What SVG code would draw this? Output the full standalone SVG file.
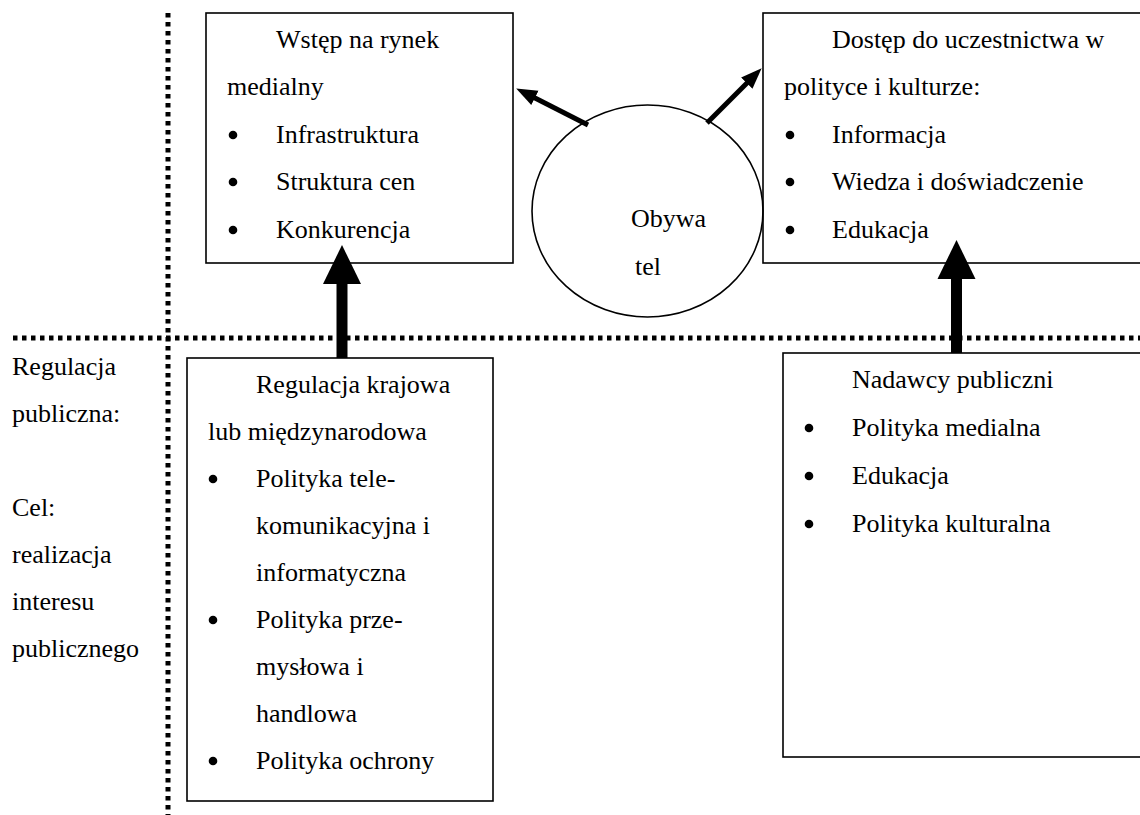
<svg xmlns="http://www.w3.org/2000/svg" width="1140" height="815" viewBox="0 0 1140 815">
<style>
  text { font-family: 'Liberation Serif', 'Times New Roman', serif; font-size: 26px; fill: #000; }
  .box { fill: none; stroke: #000; stroke-width: 1.6; }
  .dot { fill: #000; }
  .sep { stroke: #000; stroke-width: 5; stroke-dasharray: 4.5 4.5; fill: none; }
  .thin { stroke: #000; stroke-width: 5; fill: none; }
  .thick { stroke: #000; stroke-width: 11; fill: none; }
</style>
<defs>
  <marker id="headThin" markerUnits="userSpaceOnUse" markerWidth="22" markerHeight="18" viewBox="0 0 22 18" refX="1" refY="9" orient="auto">
    <path d="M0,1 L21,9 L0,17 z" fill="#000"/>
  </marker>
  <marker id="headThick" markerUnits="userSpaceOnUse" markerWidth="40" markerHeight="40" viewBox="0 0 40 40" refX="1" refY="20" orient="auto">
    <path d="M0,1 L39,20 L0,39 z" fill="#000"/>
  </marker>
</defs>
<rect width="1140" height="815" fill="#fff"/>

<g id="separators">
  <line class="sep" x1="168" y1="13" x2="168" y2="815"/>
  <line class="sep" x1="13" y1="338" x2="1140" y2="338"/>
</g>

<g id="side-label">
  <text x="12" y="375">Regulacja</text>
  <text x="12" y="422">publiczna:</text>
  <text x="12" y="516">Cel:</text>
  <text x="12" y="563">realizacja</text>
  <text x="12" y="610">interesu</text>
  <text x="12" y="657">publicznego</text>
</g>

<g id="node-rynek">
  <rect class="box" x="206" y="13" width="307" height="250"/>
  <text x="276" y="48">Wstęp na rynek</text>
  <text x="227" y="95">medialny</text>
  <circle class="dot" cx="233" cy="135" r="4.3"/>
  <text x="276" y="143">Infrastruktura</text>
  <circle class="dot" cx="233" cy="182" r="4.3"/>
  <text x="276" y="190">Struktura cen</text>
  <circle class="dot" cx="233" cy="230" r="4.3"/>
  <text x="276" y="238">Konkurencja</text>
</g>

<g id="node-dostep">
  <rect class="box" x="763" y="13" width="390" height="250"/>
  <text x="832" y="48">Dostęp do uczestnictwa w</text>
  <text x="784" y="95">polityce i kulturze:</text>
  <circle class="dot" cx="790" cy="135" r="4.3"/>
  <text x="832" y="143">Informacja</text>
  <circle class="dot" cx="790" cy="182" r="4.3"/>
  <text x="832" y="190">Wiedza i doświadczenie</text>
  <circle class="dot" cx="790" cy="230" r="4.3"/>
  <text x="832" y="238">Edukacja</text>
</g>

<g id="node-obywatel">
  <ellipse fill="none" stroke="#000" stroke-width="1.6" cx="647.5" cy="211" rx="115.5" ry="106"/>
  <text x="631" y="227">Obywa</text>
  <text x="635" y="275">tel</text>
</g>

<g id="node-regulacja">
  <rect class="box" x="187" y="358" width="306" height="443"/>
  <text x="256" y="393">Regulacja krajowa</text>
  <text x="208" y="440">lub międzynarodowa</text>
  <circle class="dot" cx="213" cy="479" r="4.3"/>
  <text x="256" y="487">Polityka tele-</text>
  <text x="256" y="534">komunikacyjna i</text>
  <text x="256" y="581">informatyczna</text>
  <circle class="dot" cx="213" cy="620" r="4.3"/>
  <text x="256" y="628">Polityka prze-</text>
  <text x="256" y="675">mysłowa i</text>
  <text x="256" y="722">handlowa</text>
  <circle class="dot" cx="213" cy="761" r="4.3"/>
  <text x="256" y="769">Polityka ochrony</text>
</g>

<g id="node-nadawcy">
  <rect class="box" x="783" y="353" width="370" height="404"/>
  <text x="852" y="388">Nadawcy publiczni</text>
  <circle class="dot" cx="809" cy="428" r="4.3"/>
  <text x="852" y="436">Polityka medialna</text>
  <circle class="dot" cx="809" cy="476" r="4.3"/>
  <text x="852" y="484">Edukacja</text>
  <circle class="dot" cx="809" cy="524" r="4.3"/>
  <text x="852" y="532">Polityka kulturalna</text>
</g>

<g id="connectors">
  <line class="thin" x1="588" y1="125" x2="534" y2="97.5" marker-end="url(#headThin)"/>
  <line class="thin" x1="707" y1="123" x2="747.5" y2="82.5" marker-end="url(#headThin)"/>
  <line class="thick" x1="342" y1="358" x2="342" y2="283" marker-end="url(#headThick)"/>
  <line class="thick" x1="956.5" y1="353" x2="956.5" y2="278" marker-end="url(#headThick)"/>
</g>
</svg>
